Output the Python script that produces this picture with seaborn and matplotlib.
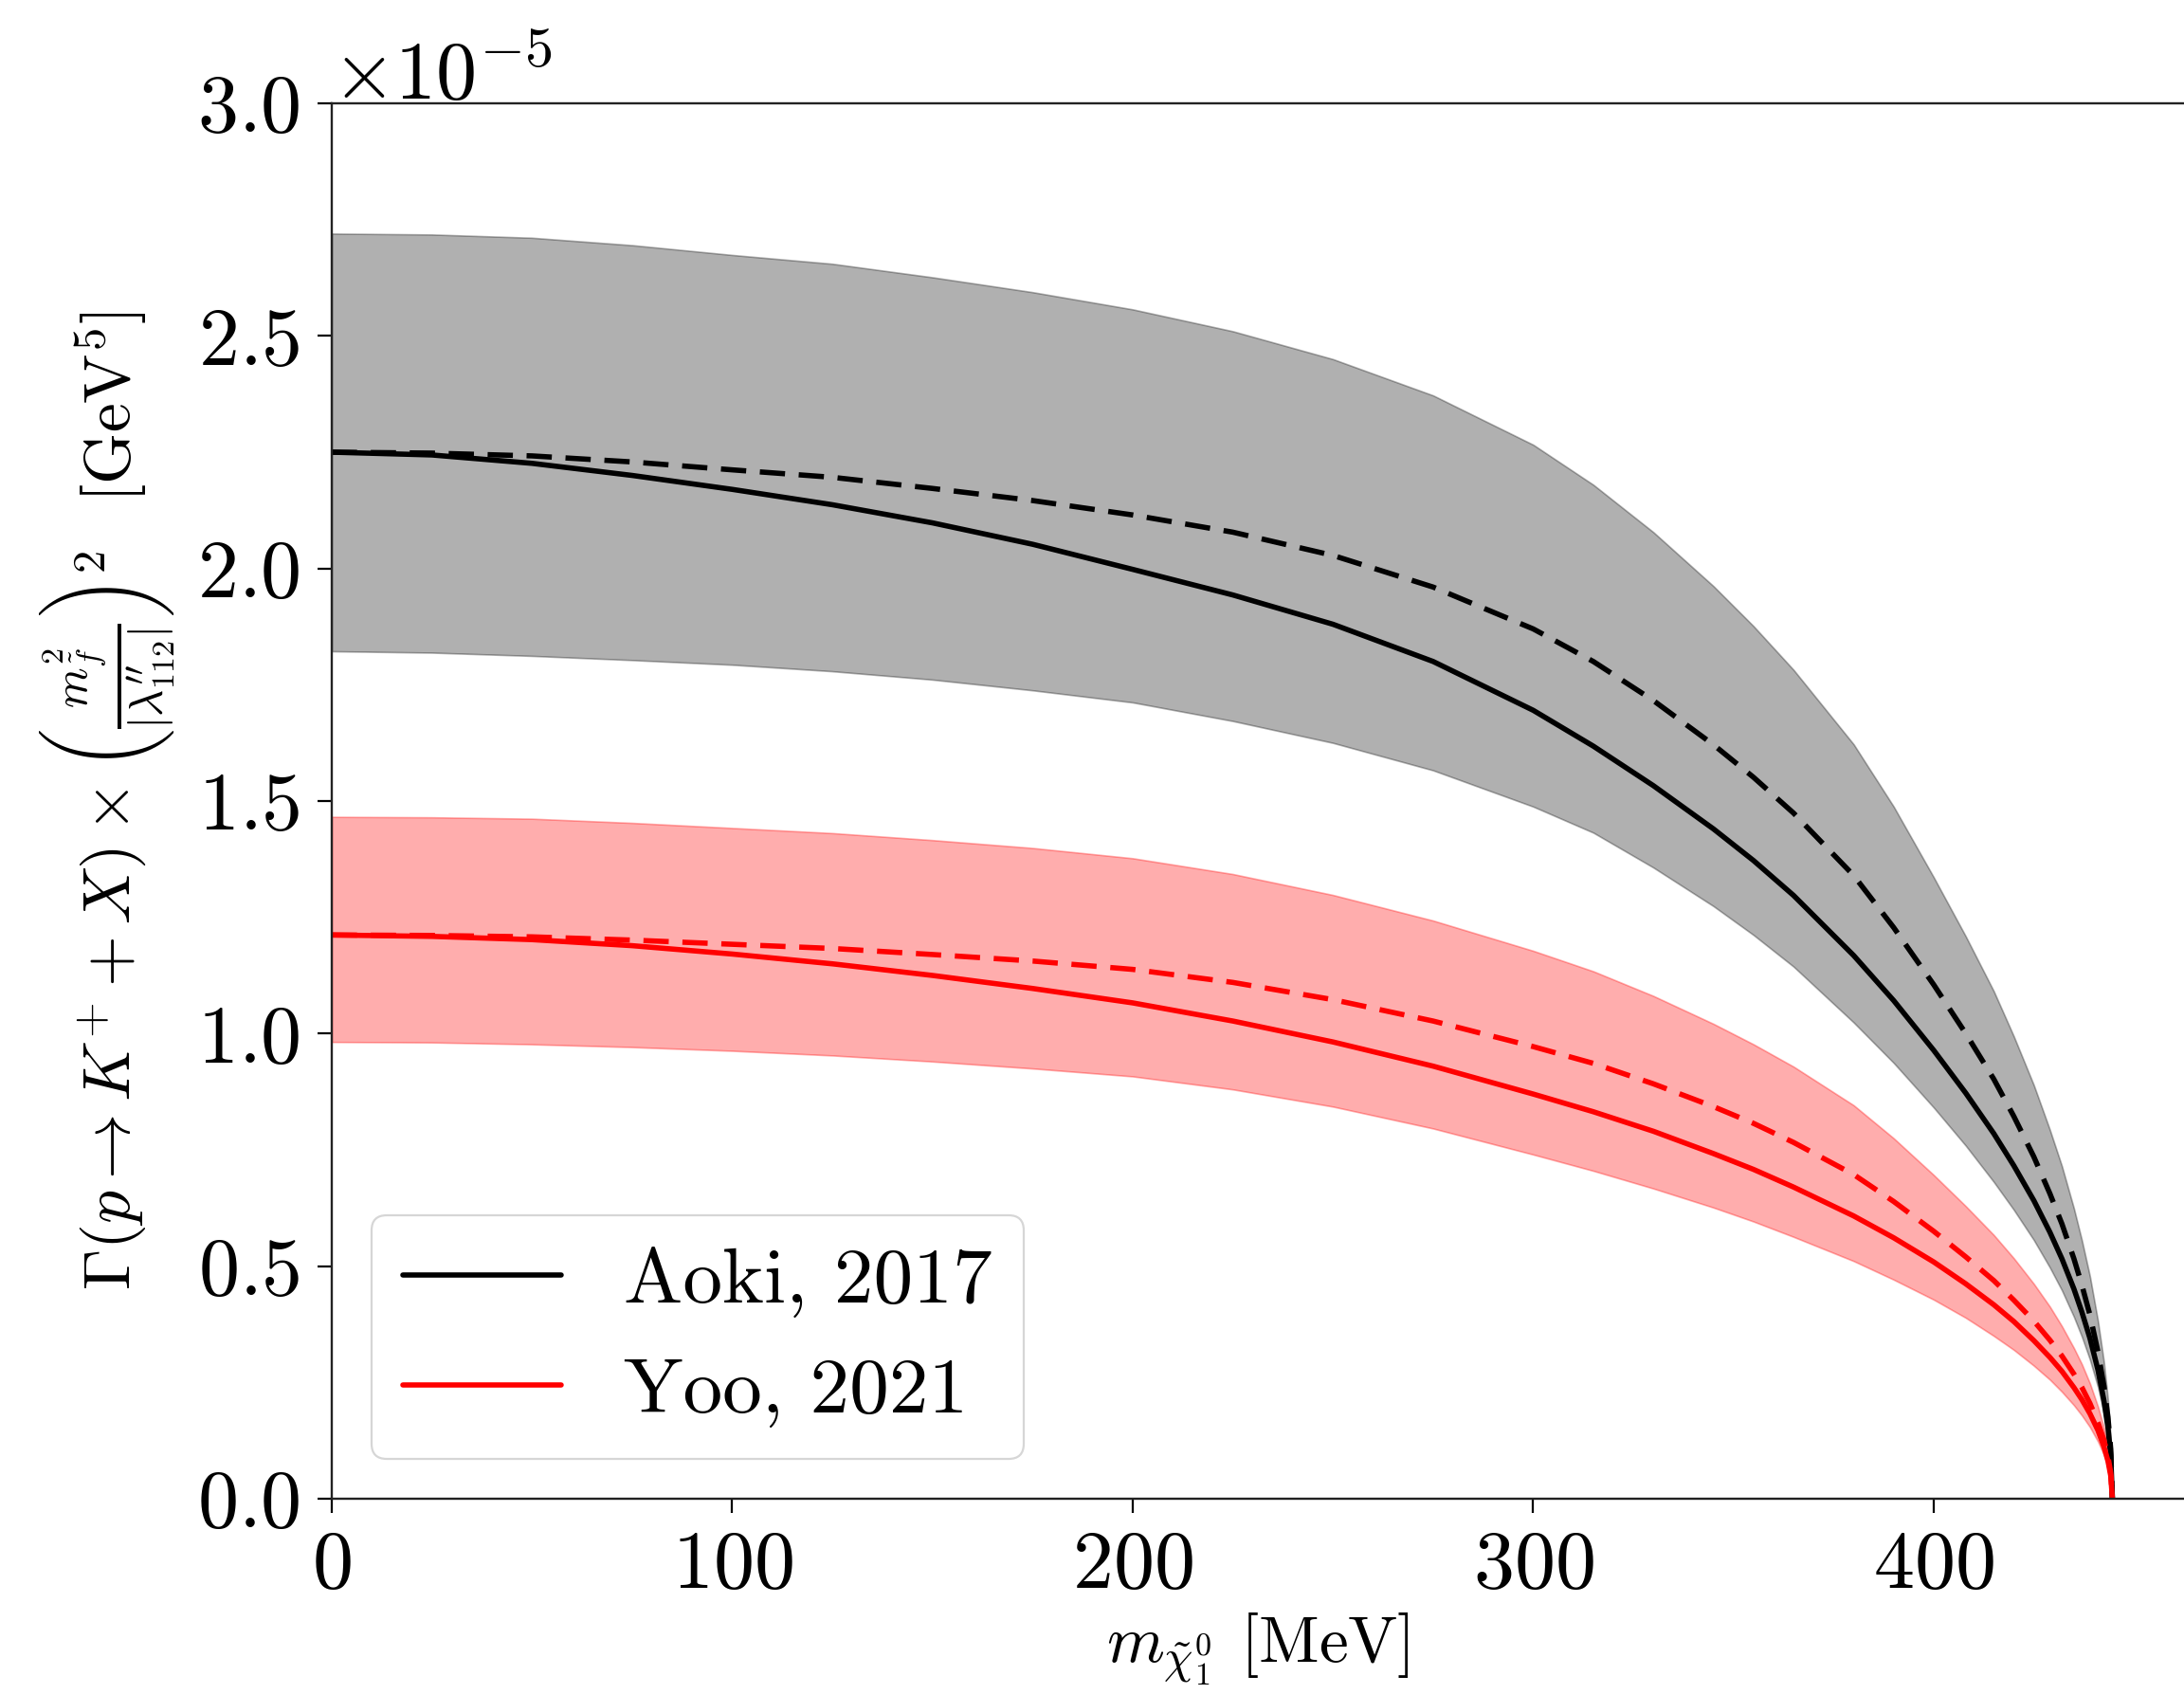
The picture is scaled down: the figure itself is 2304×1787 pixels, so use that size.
import matplotlib
matplotlib.use("Agg")
import matplotlib.pyplot as plt
import seaborn as sns
import numpy as np
import pandas as pd

# ---- data (values in units of 1e-5 GeV^5) ----
m_chi = [0, 25, 50, 75, 100, 125, 150, 175, 200, 225, 250, 275, 300, 315, 330, 345, 355, 365,
         380, 390, 400, 408, 415, 420, 425, 429, 432, 435, 437, 439, 441, 442.5, 443.5, 444.2, 444.6]

aoki_solid  = [2.250, 2.244, 2.226, 2.200, 2.170, 2.137, 2.098, 2.052, 1.998, 1.943, 1.880, 1.800, 1.695,
               1.618, 1.533, 1.440, 1.372, 1.297, 1.168, 1.071, 0.964, 0.872, 0.785, 0.716, 0.641,
               0.573, 0.516, 0.451, 0.401, 0.345, 0.277, 0.211, 0.153, 0.093, 0.0]
aoki_dashed = [2.250, 2.248, 2.242, 2.229, 2.212, 2.196, 2.172, 2.146, 2.115, 2.078, 2.028, 1.960, 1.870,
               1.800, 1.716, 1.621, 1.551, 1.474, 1.340, 1.228, 1.105, 1.000, 0.902, 0.822, 0.735,
               0.656, 0.591, 0.516, 0.459, 0.395, 0.316, 0.242, 0.175, 0.106, 0.0]
aoki_upper  = [2.720, 2.718, 2.711, 2.695, 2.674, 2.655, 2.626, 2.594, 2.557, 2.510, 2.450, 2.372, 2.266,
               2.180, 2.078, 1.962, 1.876, 1.782, 1.622, 1.488, 1.336, 1.209, 1.091, 0.994, 0.889,
               0.793, 0.715, 0.624, 0.555, 0.478, 0.382, 0.293, 0.212, 0.128, 0.0]
aoki_lower  = [1.822, 1.819, 1.812, 1.803, 1.793, 1.779, 1.761, 1.738, 1.712, 1.672, 1.625, 1.566, 1.488,
               1.432, 1.357, 1.274, 1.212, 1.144, 1.024, 0.937, 0.841, 0.759, 0.681, 0.621, 0.556,
               0.497, 0.448, 0.391, 0.348, 0.299, 0.240, 0.183, 0.133, 0.081, 0.0]

yoo_solid  = [1.212, 1.209, 1.202, 1.189, 1.171, 1.150, 1.125, 1.097, 1.066, 1.027, 0.982, 0.930, 0.870,
              0.832, 0.790, 0.742, 0.708, 0.670, 0.608, 0.561, 0.509, 0.462, 0.417, 0.381, 0.340,
              0.304, 0.274, 0.239, 0.213, 0.183, 0.147, 0.112, 0.081, 0.049, 0.0]
yoo_dashed = [1.212, 1.211, 1.208, 1.201, 1.192, 1.183, 1.170, 1.156, 1.138, 1.110, 1.073, 1.027, 0.972,
              0.936, 0.892, 0.843, 0.807, 0.766, 0.697, 0.639, 0.575, 0.520, 0.469, 0.427, 0.382,
              0.341, 0.307, 0.268, 0.239, 0.205, 0.164, 0.126, 0.091, 0.055, 0.0]
yoo_upper  = [1.466, 1.465, 1.462, 1.453, 1.442, 1.431, 1.416, 1.399, 1.377, 1.343, 1.298, 1.243, 1.178,
              1.134, 1.081, 1.021, 0.977, 0.929, 0.846, 0.775, 0.696, 0.629, 0.567, 0.517, 0.462,
              0.413, 0.371, 0.324, 0.289, 0.248, 0.198, 0.152, 0.110, 0.067, 0.0]
yoo_lower  = [0.982, 0.981, 0.977, 0.971, 0.963, 0.953, 0.940, 0.925, 0.908, 0.880, 0.843, 0.796, 0.740,
              0.705, 0.667, 0.626, 0.596, 0.563, 0.511, 0.471, 0.428, 0.389, 0.350, 0.320, 0.286,
              0.256, 0.230, 0.201, 0.179, 0.154, 0.123, 0.094, 0.068, 0.041, 0.0]

labels = ["Aoki, 2017", "Yoo, 2021"]
scale = 1e-5

sns.set_style("ticks")
plt.rcParams["font.family"] = "serif"
plt.rcParams["font.serif"] = ["cmr10"]
plt.rcParams["mathtext.fontset"] = "cm"
plt.rcParams["axes.formatter.use_mathtext"] = True
plt.rcParams["axes.unicode_minus"] = True
for k in ["text.color", "axes.labelcolor", "xtick.color", "ytick.color"]:
    plt.rcParams[k] = "black"

DPI = 100
fig = plt.figure(figsize=(2304 / DPI, 1787 / DPI), dpi=DPI)
ax = fig.add_axes([350 / 2304, 206 / 1787, 1 - 350 / 2304, (1581 - 109) / 1787])

x = np.array(m_chi)
df = pd.DataFrame({
    "m": x,
    "aoki_solid": np.array(aoki_solid) * scale,
    "aoki_dashed": np.array(aoki_dashed) * scale,
    "yoo_solid": np.array(yoo_solid) * scale,
    "yoo_dashed": np.array(yoo_dashed) * scale,
})

lw = 4.0
dash = (4.8, 2.6)

ax.fill_between(x, np.array(aoki_lower) * scale, np.array(aoki_upper) * scale,
                color="k", alpha=0.31, linewidth=1.2)
ax.fill_between(x, np.array(yoo_lower) * scale, np.array(yoo_upper) * scale,
                color="r", alpha=0.32, linewidth=1.2)

sns.lineplot(data=df, x="m", y="aoki_solid", color="k", linewidth=lw, label=labels[0], ax=ax)
sns.lineplot(data=df, x="m", y="aoki_dashed", color="k", linewidth=lw, ax=ax, legend=False)
sns.lineplot(data=df, x="m", y="yoo_solid", color="r", linewidth=lw, label=labels[1], ax=ax)
sns.lineplot(data=df, x="m", y="yoo_dashed", color="r", linewidth=lw, ax=ax, legend=False)

lines = ax.get_lines()
lines[1].set_dashes(dash)
lines[3].set_dashes(dash)

ax.set_xlim(0, (2304 - 350) / 4.225)
ax.set_ylim(0, 3.0e-5)
ax.set_xticks([0, 100, 200, 300, 400])
ax.set_yticks(np.arange(0, 3.01e-5, 0.5e-5))

ax.spines["right"].set_visible(False)
for s in ["left", "bottom", "top"]:
    ax.spines[s].set_linewidth(1.7)
    ax.spines[s].set_color("#222222")

ax.tick_params(axis="both", which="major", labelsize=62, length=11, width=1.6,
               direction="out", pad=13, colors="black")
ax.tick_params(top=False, right=False)
ax.yaxis.get_offset_text().set_fontsize(62)

ax.set_xlabel(r"$m_{\tilde{\chi}_1^0}$ [MeV]", fontsize=50, labelpad=6)
ax.set_ylabel(r"$\Gamma(p\rightarrow K^{+}+X)\times\left(\frac{m_{\tilde{f}}^{2}}{|\lambda^{\prime\prime}_{112}|}\right)^{2}$  [GeV$^5$]",
              fontsize=50, labelpad=16)

leg = ax.legend(loc="lower left", fontsize=60, frameon=True, handlelength=2.0,
                borderaxespad=0.5)
leg.get_frame().set_linewidth(1.6)
leg.get_frame().set_edgecolor("#cccccc")

fig.savefig("out.png", dpi=DPI)
